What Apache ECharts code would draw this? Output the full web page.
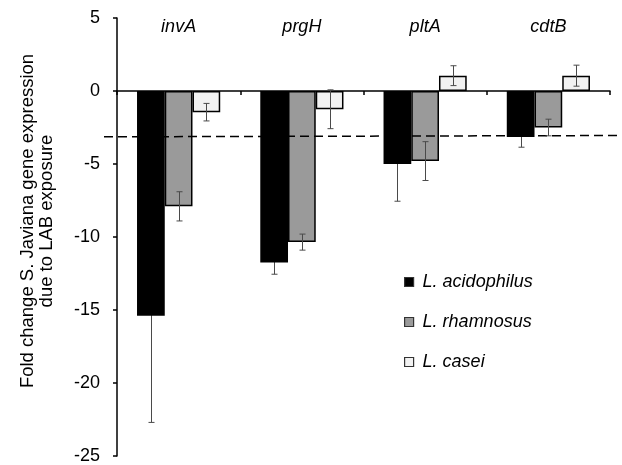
<!DOCTYPE html>
<html>
<head>
<meta charset="utf-8">
<script src="https://cdn.jsdelivr.net/npm/echarts@6/dist/echarts.min.js"></script>
<style>html,body{margin:0;padding:0;background:#fff}#c{width:622px;height:465px}</style>
</head>
<body>
<div id="c"></div>
<script>
var categories = ['invA', 'prgH', 'pltA', 'cdtB'];
var seriesNames = ['L. acidophilus', 'L. rhamnosus', 'L. casei'];
var acidophilus = [-15.4, -11.75, -5.0, -3.15];
var rhamnosus = [-7.9, -10.35, -4.8, -2.5];
var casei = [-1.45, -1.25, 1.05, 1.05];
var acidophilusErr = [7.3, 0.8, 2.55, 0.7];
var rhamnosusErr = [1.0, 0.55, 1.33, 0.57];
var caseiErr = [0.6, 1.33, 0.68, 0.72];
var thresholdLine = [[0, -3.12], [1, -3.03]];
var yTicks = [5, 0, -5, -10, -15, -20, -25];

var values = [acidophilus, rhamnosus, casei];
var errs = [acidophilusErr, rhamnosusErr, caseiErr];
var colors = ['#000000', '#9a9a9a', '#f2f2f2'];
var BARW = 0.225;
var FONT = 'Liberation Sans, Arial, sans-serif';

var series = [];
values.forEach(function (vals, i) {
  series.push({
    name: seriesNames[i],
    type: 'bar',
    xAxisIndex: 0, yAxisIndex: 0,
    data: vals,
    barWidth: (BARW * 100) + '%',
    barGap: '0%',
    itemStyle: { color: colors[i], borderColor: '#000', borderWidth: 1.5 },
    z: 3
  });
});
values.forEach(function (vals, i) {
  var data = vals.map(function (v, k) { return [k, v - errs[i][k], v + errs[i][k]]; });
  series.push({
    type: 'custom',
    xAxisIndex: 0, yAxisIndex: 0,
    data: data,
    z: i === 0 ? 1 : 5,
    silent: true,
    renderItem: function (params, api) {
      var k = api.value(0);
      var lo = api.coord([k, api.value(1)]);
      var hi = api.coord([k, api.value(2)]);
      var band = api.size([1, 0])[0];
      var x = Math.round(lo[0] + (i - 1) * BARW * band) + 0.5;
      var cap = 3;
      var st = { stroke: '#4a4a4a', lineWidth: 1 };
      return {
        type: 'group',
        children: [
          { type: 'line', shape: { x1: x, y1: lo[1], x2: x, y2: hi[1] }, style: st },
          { type: 'line', shape: { x1: x - cap, y1: lo[1], x2: x + cap, y2: lo[1] }, style: st },
          { type: 'line', shape: { x1: x - cap, y1: hi[1], x2: x + cap, y2: hi[1] }, style: st }
        ]
      };
    }
  });
});
series.push({
  type: 'line',
  xAxisIndex: 2, yAxisIndex: 1,
  data: thresholdLine,
  symbol: 'none',
  lineStyle: { color: '#000', width: 1.5, type: [9, 5] },
  z: 4,
  silent: true
});

var chart = echarts.init(document.getElementById('c'), null, { renderer: 'canvas' });
chart.setOption({
  animation: false,
  backgroundColor: '#fff',
  grid: [
    { left: 117, right: 12, top: 18, bottom: 8 },
    { left: 104, right: 0, top: 18, bottom: 8 }
  ],
  legend: {
    data: seriesNames,
    orient: 'vertical',
    left: 399,
    top: 267,
    itemWidth: 9,
    itemHeight: 9,
    itemGap: 20,
    icon: 'rect',
    itemStyle: { borderColor: '#333', borderWidth: 1.2 },
    textStyle: { fontFamily: FONT, fontSize: 18, fontStyle: 'italic', color: '#000', lineHeight: 20, padding: [0, 0, 0, 4] }
  },
  xAxis: [
    {
      type: 'category', data: categories, gridIndex: 0,
      axisLine: { onZero: true, lineStyle: { color: '#000', width: 1.5 } },
      axisTick: { show: true, length: 4, lineStyle: { color: '#000', width: 1.5 } },
      axisLabel: { show: false },
      splitLine: { show: false }
    },
    {
      type: 'category', data: categories, gridIndex: 0, position: 'top',
      axisLine: { show: false }, axisTick: { show: false },
      axisLabel: { show: true, inside: true, margin: 0, fontFamily: FONT, fontSize: 18, fontStyle: 'italic', color: '#000' }
    },
    {
      type: 'value', gridIndex: 1, min: 0, max: 1, show: false
    }
  ],
  yAxis: [
    {
      type: 'value', gridIndex: 0, min: -25, max: 5, interval: 5,
      axisLine: { show: true, onZero: false, lineStyle: { color: '#000', width: 1.5 } },
      axisTick: { show: true, length: 4, lineStyle: { color: '#000', width: 1.5 } },
      axisLabel: { fontFamily: FONT, fontSize: 18, color: '#000', margin: 17,
        formatter: function (v) { return yTicks.indexOf(v) >= 0 ? String(v) : ''; } },
      splitLine: { show: false }
    },
    {
      type: 'value', gridIndex: 1, min: -25, max: 5, show: false
    }
  ],
  graphic: [
    {
      type: 'text', x: 37, y: 221, rotation: Math.PI / 2,
      style: {
        text: 'Fold change S. Javiana gene expression\ndue to LAB exposure',
        font: '18.5px ' + FONT, fill: '#000', align: 'center', verticalAlign: 'middle', lineHeight: 19
      }
    }
  ],
  series: series
});
</script>
</body>
</html>
